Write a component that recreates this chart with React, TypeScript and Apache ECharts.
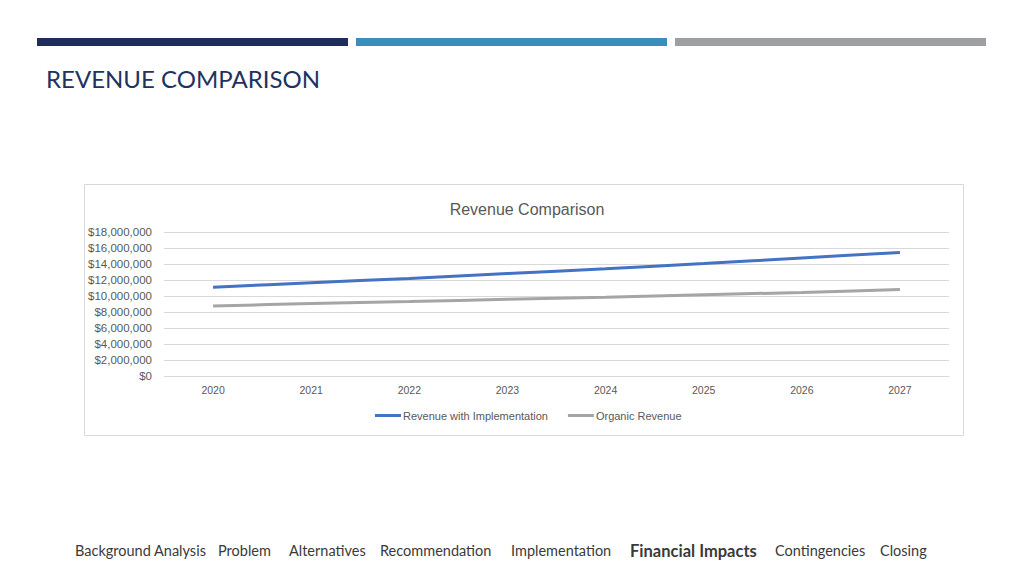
import React, { useEffect, useRef } from "react";
import * as echarts from "echarts";

const years = ["2020", "2021", "2022", "2023", "2024", "2025", "2026", "2027"];
const revenueWithImplementation = [11100000, 11650000, 12200000, 12800000, 13400000, 14050000, 14750000, 15450000];
const organicRevenue = [8750000, 9050000, 9300000, 9600000, 9850000, 10150000, 10450000, 10800000];
const seriesNames = ["Revenue with Implementation", "Organic Revenue"];
const navItems = ["Background Analysis", "Problem", "Alternatives", "Recommendation", "Implementation", "Financial Impacts", "Contingencies", "Closing"];
const navX = [75, 218, 289, 380, 511, 630, 775, 880];
const activeNav = "Financial Impacts";

export default function App() {
  const ref = useRef<HTMLDivElement>(null);
  useEffect(() => {
    if (!ref.current) return;
    const chart = echarts.init(ref.current, null, { renderer: "svg" });
    const navFont = "Lato, 'Open Sans', sans-serif";
    const chartFont = "'Liberation Sans', Arial, sans-serif";
    chart.setOption({
      animation: false,
      backgroundColor: "#ffffff",
      title: {
        text: "Revenue Comparison",
        left: 522,
        top: 196,
        textAlign: "center",
        textStyle: { fontFamily: chartFont, fontSize: 16, fontWeight: "normal", color: "#595959" },
      },
      graphic: [
        { type: "rect", shape: { x: 37, y: 38, width: 311, height: 8 }, style: { fill: "#1f2d5c" }, silent: true },
        { type: "rect", shape: { x: 356, y: 38, width: 311, height: 8 }, style: { fill: "#3b8ebc" }, silent: true },
        { type: "rect", shape: { x: 675, y: 38, width: 311, height: 8 }, style: { fill: "#9d9fa2" }, silent: true },
        {
          type: "text",
          left: 46,
          top: 66,
          style: { text: "REVENUE COMPARISON", fill: "#22325e", font: "24px Lato, 'Open Sans', sans-serif" },
        },
        {
          type: "rect",
          z: -1,
          shape: { x: 84.5, y: 184.5, width: 879, height: 251 },
          style: { fill: "#ffffff", stroke: "#d9d9d9", lineWidth: 1 },
          silent: true,
        },
        ...navItems.map((t, i) => ({
          type: "text",
          left: navX[i],
          top: t === activeNav ? 542 : 543,
          style: {
            text: t,
            fill: "#3a3a3a",
            font: (t === activeNav ? "bold 16.5px " : "14.5px ") + navFont,
          },
        })),
      ],
      legend: {
        data: seriesNames,
        top: 410,
        left: 375,
        padding: 0,
        icon: "rect",
        itemWidth: 26,
        itemHeight: 3,
        itemGap: 20,
        textStyle: { fontFamily: chartFont, fontSize: 11, color: "#595959", padding: [0, 0, 0, -3] },
      },
      grid: { left: 164, right: 1024 - 949, top: 232, bottom: 576 - 376, containLabel: false },
      xAxis: {
        type: "category",
        data: years,
        boundaryGap: true,
        axisLine: { show: true, lineStyle: { color: "#d9d9d9" } },
        axisTick: { show: false },
        axisLabel: { color: "#595959", fontSize: 10.5, margin: 8, fontFamily: chartFont },
      },
      yAxis: {
        type: "value",
        min: 0,
        max: 18000000,
        interval: 2000000,
        axisLine: { show: false },
        axisTick: { show: false },
        splitLine: { lineStyle: { color: "#d9d9d9", width: 1 } },
        axisLabel: {
          color: "#595959",
          fontSize: 11.5,
          margin: 12,
          fontFamily: chartFont,
          formatter: (v: number) => "$" + v.toLocaleString("en-US"),
        },
      },
      series: [
        {
          name: seriesNames[0],
          type: "line",
          data: revenueWithImplementation,
          smooth: 0.3,
          symbol: "none",
          lineStyle: { color: "#4472c4", width: 3 },
          itemStyle: { color: "#4472c4" },
        },
        {
          name: seriesNames[1],
          type: "line",
          data: organicRevenue,
          smooth: 0.3,
          symbol: "none",
          lineStyle: { color: "#a5a5a5", width: 3 },
          itemStyle: { color: "#a5a5a5" },
        },
      ],
    });
    return () => chart.dispose();
  }, []);
  return <div ref={ref} style={{ position: "fixed", left: 0, top: 0, width: 1024, height: 576 }} />;
}
